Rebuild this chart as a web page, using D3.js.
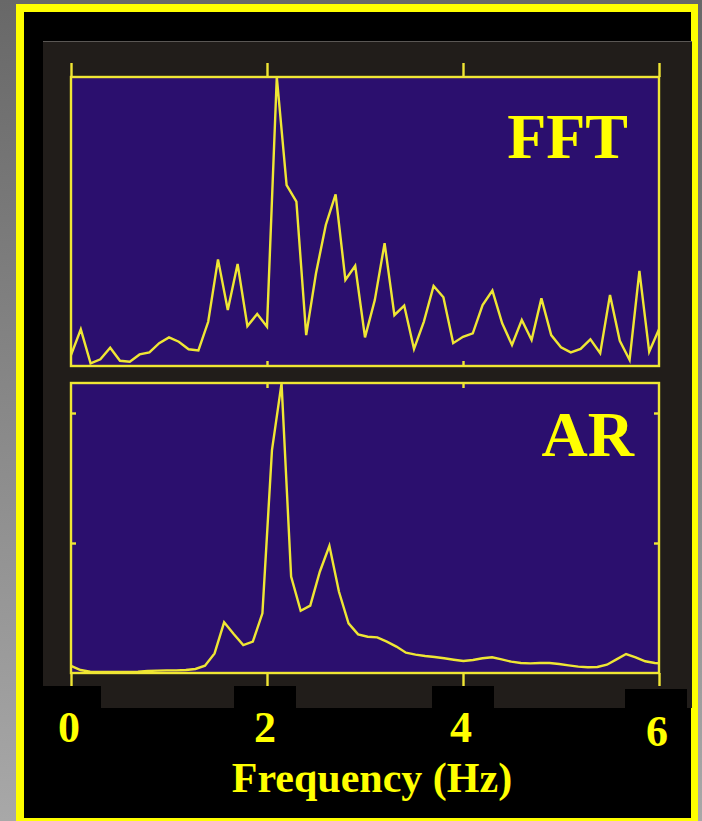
<!DOCTYPE html>
<html>
<head>
<meta charset="utf-8">
<script src="https://cdn.jsdelivr.net/npm/d3@7/dist/d3.min.js"></script>
<style>
  html, body { margin: 0; padding: 0; background: #6b6b6b; }
  svg { display: block; }
</style>
</head>
<body>
<script>
// Power spectra of the same signal: FFT periodogram (0.1 Hz bins) and AR model spectrum.
const fftFreqStep = 0.1;          // Hz between FFT bins
const arFreqStep = 25 / 256;      // Hz between AR spectrum samples

// FFT power, normalised to the main peak
const fftPower = [
  0.038, 0.127, 0.009, 0.023, 0.063, 0.018, 0.015, 0.040, 0.047, 0.079,
  0.099, 0.084, 0.058, 0.054, 0.153, 0.369, 0.194, 0.353, 0.138, 0.180,
  0.136, 1.000, 0.626, 0.569, 0.107, 0.321, 0.488, 0.594, 0.298, 0.347,
  0.099, 0.228, 0.425, 0.176, 0.209, 0.059, 0.153, 0.277, 0.238, 0.079,
  0.101, 0.113, 0.211, 0.261, 0.148, 0.073, 0.159, 0.090, 0.234, 0.107,
  0.065, 0.047, 0.059, 0.092, 0.044, 0.246, 0.087, 0.021, 0.329, 0.049,
  0.127
];

// AR spectrum power
const arPower = [
  0.054, 0.023, 0.010, 0.008, 0.008, 0.008, 0.008, 0.010, 0.015, 0.018,
  0.020, 0.020, 0.023, 0.031, 0.056, 0.151, 0.390, 0.300, 0.215, 0.241,
  0.459, 1.715, 2.228, 0.741, 0.479, 0.518, 0.779, 0.979, 0.625, 0.382,
  0.297, 0.279, 0.274, 0.241, 0.203, 0.156, 0.141, 0.131, 0.123, 0.113,
  0.102, 0.092, 0.100, 0.113, 0.121, 0.105, 0.087, 0.077, 0.074, 0.077,
  0.077, 0.069, 0.059, 0.049, 0.044, 0.046, 0.064, 0.105, 0.146, 0.121,
  0.090, 0.077, 0.072
];

const xTickValues = [0, 2, 4, 6];
const arYTicks = [1, 2];
const panelLabels = ["FFT", "AR"];
const xAxisTitle = "Frequency (Hz)";

const W = 702, H = 821;
const YELLOW = "#ffff00";
const LINE = "#efe634";
const PLOT_BG = "#2b0f6e";
const PANEL = "#211d1a";
const SERIF = "'Liberation Serif', 'Times New Roman', serif";

const svg = d3.select("body").append("svg")
  .attr("width", W).attr("height", H);

// grey surround with a light lower-left
const defs = svg.append("defs");
const grad = defs.append("linearGradient").attr("id", "surround")
  .attr("x1", 0).attr("y1", 0).attr("x2", 0).attr("y2", 1);
grad.append("stop").attr("offset", "0%").attr("stop-color", "#686868");
grad.append("stop").attr("offset", "100%").attr("stop-color", "#a8a8a8");
svg.append("rect").attr("width", W).attr("height", H).attr("fill", "url(#surround)");

// yellow frame and black card
svg.append("rect").attr("x", 16).attr("y", 4).attr("width", 682).attr("height", 830).attr("fill", YELLOW);
svg.append("rect").attr("x", 24).attr("y", 12).attr("width", 667).attr("height", 806).attr("fill", "#000");

// dark figure panel
svg.append("rect").attr("x", 43).attr("y", 41).attr("width", 649).attr("height", 667).attr("fill", PANEL);
svg.append("line").attr("x1", 43).attr("x2", 692).attr("y1", 41.5).attr("y2", 41.5)
  .attr("stroke", "#5a5754").attr("stroke-width", 1);

// black plates behind the tick labels
const plates = [
  {x: 43, y: 686, w: 58}, {x: 234, y: 686, w: 62},
  {x: 432, y: 686, w: 62}, {x: 625, y: 689, w: 62}
];
svg.selectAll("rect.plate").data(plates).join("rect").attr("class", "plate")
  .attr("x", d => d.x).attr("y", d => d.y).attr("width", d => d.w).attr("height", 30)
  .attr("fill", "#000");

// scales
const x = d3.scaleLinear().domain([0, 6]).range([71, 659]);
const yFFT = d3.scaleLinear().domain([0, 1]).range([366, 77]);
const yAR = d3.scaleLinear().domain([0, 290 / 130]).range([673, 383]);

function plotBox(y) {
  const [y0, y1] = y.range();
  return {x0: x.range()[0], x1: x.range()[1], top: y1, bottom: y0};
}

function styleAxis(g) {
  g.select(".domain").remove();
  g.selectAll(".tick line").attr("stroke", LINE).attr("stroke-width", 2.4);
  g.selectAll(".tick text").remove();
}

function drawPanel(yScale, values, step, label, labelPos, clipId) {
  const b = plotBox(yScale);
  svg.append("rect").attr("x", b.x0).attr("y", b.top)
    .attr("width", b.x1 - b.x0).attr("height", b.bottom - b.top).attr("fill", PLOT_BG);

  defs.append("clipPath").attr("id", clipId).append("rect")
    .attr("x", b.x0).attr("y", b.top - 2).attr("width", b.x1 - b.x0).attr("height", b.bottom - b.top + 4);

  const line = d3.line()
    .x((d, i) => x(i * step))
    .y(d => yScale(d));

  svg.append("path").datum(values)
    .attr("d", line)
    .attr("fill", "none")
    .attr("stroke", LINE)
    .attr("stroke-width", 2.4)
    .attr("stroke-linejoin", "miter")
    .attr("clip-path", `url(#${clipId})`);

  svg.append("rect").attr("x", b.x0).attr("y", b.top)
    .attr("width", b.x1 - b.x0).attr("height", b.bottom - b.top)
    .attr("fill", "none").attr("stroke", LINE).attr("stroke-width", 2.4);

  svg.append("text")
    .attr("x", labelPos[0]).attr("y", labelPos[1])
    .attr("text-anchor", "end")
    .attr("font-family", SERIF).attr("font-weight", "bold").attr("font-size", 64)
    .attr("fill", YELLOW)
    .text(label);
  return b;
}

const bF = drawPanel(yFFT, fftPower, fftFreqStep, panelLabels[0], [628, 158], "clipFFT");
const bA = drawPanel(yAR, arPower, arFreqStep, panelLabels[1], [634, 456], "clipAR");

// FFT panel ticks: long outward ticks on top, short inward ticks on the bottom
svg.append("g").attr("transform", `translate(0,${bF.top})`)
  .call(d3.axisTop(x).tickValues(xTickValues).tickSize(14)).call(styleAxis);
svg.append("g").attr("transform", `translate(0,${bF.bottom})`)
  .call(d3.axisTop(x).tickValues([2, 4]).tickSize(5)).call(styleAxis);

// AR panel ticks
svg.append("g").attr("transform", `translate(0,${bA.top})`)
  .call(d3.axisBottom(x).tickValues([2, 4]).tickSize(5)).call(styleAxis);
svg.append("g").attr("transform", `translate(0,${bA.bottom})`)
  .call(d3.axisBottom(x).tickValues(xTickValues).tickSize(13)).call(styleAxis);
svg.append("g").attr("transform", `translate(${bA.x0},0)`)
  .call(d3.axisRight(yAR).tickValues(arYTicks).tickSize(5)).call(styleAxis);
svg.append("g").attr("transform", `translate(${bA.x1},0)`)
  .call(d3.axisLeft(yAR).tickValues(arYTicks).tickSize(5)).call(styleAxis);

// frequency tick labels
svg.selectAll("text.xlab").data(xTickValues).join("text").attr("class", "xlab")
  .attr("x", d => x(d) - 2)
  .attr("y", d => d === 6 ? 746 : 742)
  .attr("text-anchor", "middle")
  .attr("font-family", SERIF).attr("font-weight", "bold").attr("font-size", 44)
  .attr("fill", YELLOW)
  .text(d => d);

// axis title
svg.append("text")
  .attr("x", 372).attr("y", 792)
  .attr("text-anchor", "middle")
  .attr("font-family", SERIF).attr("font-weight", "bold").attr("font-size", 42)
  .attr("fill", YELLOW)
  .text(xAxisTitle);
</script>
</body>
</html>
